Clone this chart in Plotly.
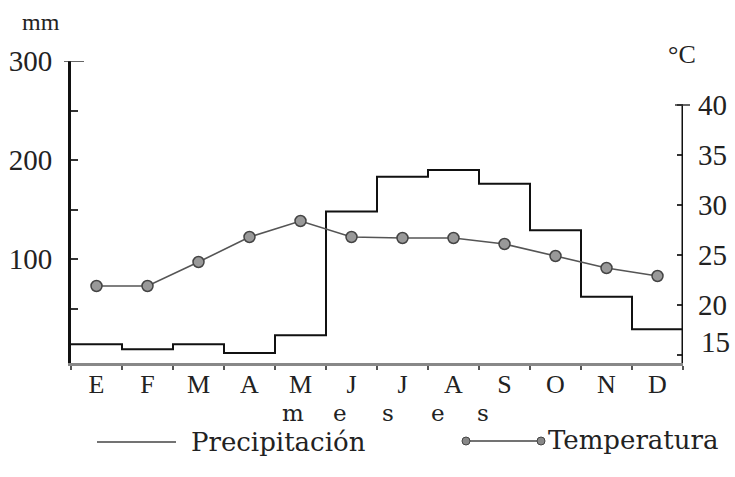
import plotly.graph_objects as go

meses = ["E", "F", "M", "A", "M", "J", "J", "A", "S", "O", "N", "D"]
precipitacion = [14, 9, 14, 5, 23, 148, 183, 190, 176, 129, 62, 29]
temperatura = [21.9, 21.9, 24.3, 26.8, 28.4, 26.8, 26.7, 26.7, 26.1, 24.9, 23.7, 22.9]
mm_ticks = [50, 100, 150, 200, 250, 300]
mm_labels = ["", "100", "", "200", "", "300"]
c_ticks = [15, 20, 25, 30, 35, 40]
c_labels = ["", "20", "25", "30", "35", "40"]

FONT = "Liberation Serif"
FONT2 = "DejaVu Serif"
W, H = 735, 477
L, R, T, B = 71, 52, 61, 114
pw, ph = W - L - R, H - T - B

def px(x):
    return (x - L) / pw

def py(y):
    return (H - B - y) / ph

n = len(meses)
step_x = list(range(n)) + [n]
step_y = precipitacion + [precipitacion[-1]]
centers = [i + 0.5 for i in range(n)]

fig = go.Figure()
fig.add_trace(go.Scatter(
    x=step_x, y=step_y, mode="lines", line=dict(color="#111", width=2, shape="hv"),
    showlegend=False, hoverinfo="skip"))
fig.add_trace(go.Scatter(
    x=centers, y=temperatura, yaxis="y2", mode="lines+markers",
    line=dict(color="#555", width=1.6),
    marker=dict(size=11, color="#999", line=dict(color="#444", width=1.5)),
    showlegend=False, hoverinfo="skip"))

fig.update_layout(
    width=W, height=H, margin=dict(l=L, r=R, t=T, b=B),
    paper_bgcolor="white", plot_bgcolor="white",
    font=dict(family=FONT, color="#222", size=26),
    xaxis=dict(range=[0, n], showgrid=False, zeroline=False, automargin=False,
               showline=True, linecolor="#888", linewidth=3,
               tickvals=centers, ticktext=meses, ticks="",
               ticklabelstandoff=-4,
               tickfont=dict(size=26, family=FONT),
               minor=dict(tick0=0, dtick=1, ticks="outside", ticklen=4,
                          tickcolor="#555", tickwidth=1.5)),
    yaxis=dict(range=[-5, 300], showgrid=False, zeroline=False, automargin=False,
               showline=True, linecolor="#111", linewidth=3,
               tickvals=mm_ticks, ticktext=mm_labels, ticks="inside",
               ticklen=7, tickwidth=1.5, tickcolor="#333",
               ticklabelstandoff=10, tickfont=dict(size=29, family=FONT)),
    yaxis2=dict(range=[14.2, 44.4], overlaying="y", side="right", automargin=False,
                showgrid=False, zeroline=False, showline=False,
                tickvals=c_ticks, ticktext=c_labels, ticks="inside",
                ticklen=6, tickwidth=1.5, tickcolor="#333",
                ticklabelstandoff=14, tickfont=dict(size=29, family=FONT)),
)

shapes = [
    dict(type="line", xref="x", yref="y2", x0=n, x1=n, y0=14.2, y1=40,
         line=dict(color="#111", width=3)),
    dict(type="line", xref="paper", yref="y2", x0=px(675), x1=px(690), y0=40, y1=40,
         line=dict(color="#333", width=1.5)),
    dict(type="line", xref="paper", yref="y", x0=px(64), x1=px(84), y0=300, y1=300,
         line=dict(color="#333", width=1.5)),
    # legend
    dict(type="line", xref="paper", yref="paper", x0=px(97), x1=px(176),
         y0=py(442), y1=py(442), line=dict(color="#444", width=1.5)),
    dict(type="line", xref="paper", yref="paper", x0=px(466), x1=px(541),
         y0=py(441), y1=py(441), line=dict(color="#444", width=1.5)),
]
for cx in (466, 541):
    shapes.append(dict(type="circle", xref="paper", yref="paper",
                       x0=px(cx - 4), x1=px(cx + 4), y0=py(441 - 4), y1=py(441 + 4),
                       fillcolor="#888", line=dict(color="#444", width=1)))
fig.update_layout(shapes=shapes)

def text(t, x, y, size, family=FONT, xanchor="center", **kw):
    return dict(text=t, xref="paper", yref="paper", x=px(x), y=py(y),
                xanchor=xanchor, yanchor="middle", showarrow=False,
                font=dict(size=size, family=family), **kw)

ann = [
    text("mm", 41, 22, 24),
    text("°C", 682, 55, 26),
    dict(text="15", xref="paper", yref="y2", x=1, y=16.3, xanchor="left",
         yanchor="middle", xshift=16, showarrow=False, font=dict(size=29)),
    text("Precipitación", 189, 442, 26, FONT2, xanchor="left"),
    text("Temperatura", 546, 440, 26, FONT2, xanchor="left"),
]
for ch, xx in zip("meses", [293, 340, 388, 438, 483]):
    ann.append(text(ch, xx, 413, 23, FONT2))
fig.update_layout(annotations=ann)

fig.write_html("out.html", post_script="document.body.style.margin='0';",
               config={"displayModeBar": False})
